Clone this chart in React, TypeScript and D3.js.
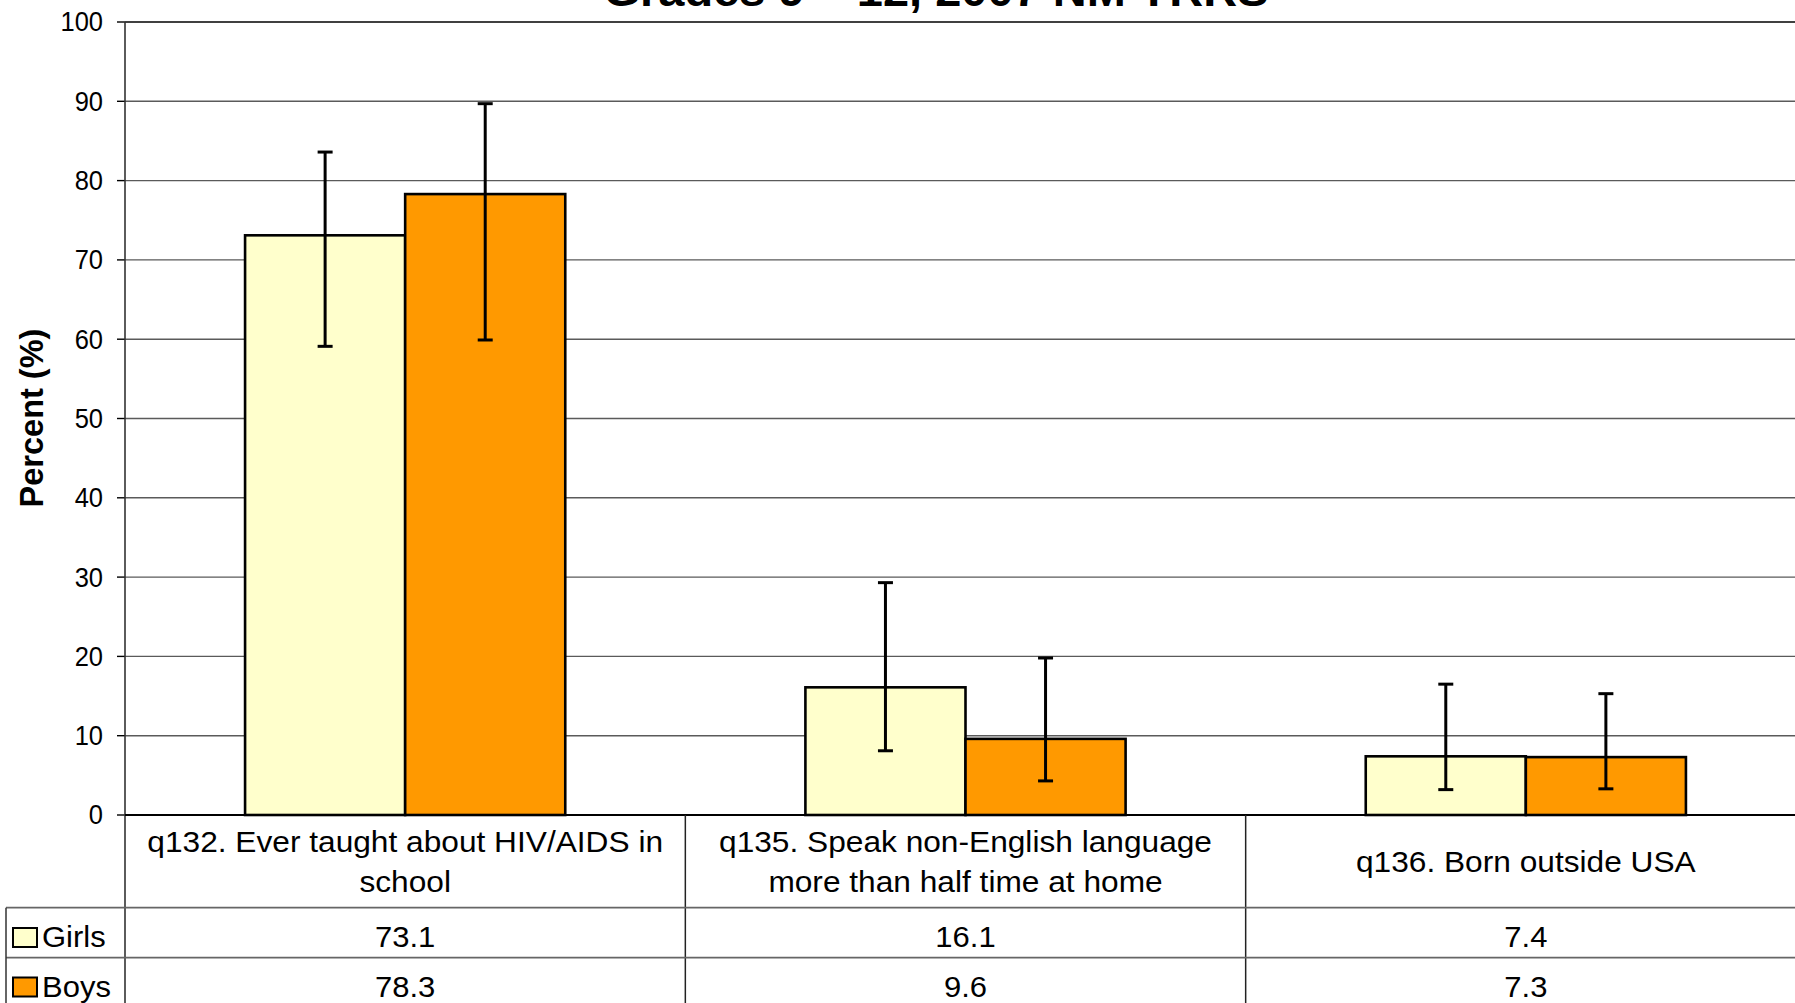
import React from "react";
import * as d3 from "d3";

const categories = [
  ["q132. Ever taught about HIV/AIDS in", "school"],
  ["q135. Speak non-English language", "more than half time at home"],
  ["q136. Born outside USA"],
];
const seriesNames = ["Girls", "Boys"];
const girls = [73.1, 16.1, 7.4];
const boys = [78.3, 9.6, 7.3];
const girlsLow = [59.1, 8.1, 3.2];
const girlsHigh = [83.6, 29.3, 16.5];
const boysLow = [59.9, 4.3, 3.3];
const boysHigh = [89.7, 19.8, 15.3];
const yTicks = [0, 10, 20, 30, 40, 50, 60, 70, 80, 90, 100];
const colors = ["#FFFFCC", "#FF9900"];
const title = "Grades 9 – 12, 2007 NM YRRS";

const W = 1795;
const H = 1003;
const left = 125;
const right = 1806;
const top = 22;
const bottom = 815;
const row1 = 907.7;
const row2 = 957.7;
const row3 = 1007.7;
const tableLeft = 6;
const FONT = "Arial, 'Liberation Sans', sans-serif";

export default function App() {
  const idx = categories.map((_, i) => i);
  const x = d3.scaleBand<number>().domain(idx).range([left, right]).paddingInner(0).paddingOuter(0);
  const bw = x.bandwidth();
  const xs = d3
    .scaleBand<number>()
    .domain([0, 1])
    .range([bw * (0.75 / 3.5), bw * (1 - 0.75 / 3.5)])
    .padding(0);
  const y = d3.scaleLinear().domain([0, 100]).range([bottom, top]);
  const values = [girls, boys];
  const lows = [girlsLow, boysLow];
  const highs = [girlsHigh, boysHigh];

  const colLines = [left, ...idx.slice(1).map((i) => x(i) as number)];

  return (
    <svg width={W} height={H} style={{ position: "absolute", left: 0, top: 0, background: "#fff" }}>
      <rect x={0} y={0} width={W} height={H} fill="#fff" />
      {/* title */}
      <text
        x={936}
        y={6}
        textAnchor="middle"
        fontFamily={FONT}
        fontWeight="bold"
        fontSize={44}
        textLength={665}
        lengthAdjust="spacingAndGlyphs"
        fill="#000"
      >
        {title}
      </text>
      {/* gridlines */}
      {yTicks.filter((t) => t > 0 && t < 100).map((t) => (
        <line key={"g" + t} x1={left} x2={right} y1={y(t)} y2={y(t)} stroke="#5a5a5a" strokeWidth={1.4} />
      ))}
      <line x1={left} x2={right} y1={y(100)} y2={y(100)} stroke="#000" strokeWidth={1.6} />
      {/* ticks and labels */}
      {yTicks.map((t) => (
        <g key={"t" + t}>
          <line x1={117} x2={left} y1={y(t)} y2={y(t)} stroke="#000" strokeWidth={1.4} />
          <text
            transform={`translate(103,${y(t)}) scale(1,1.06)`}
            dy="0.35em"
            textAnchor="end"
            fontFamily={FONT}
            fontSize={25.5}
            fill="#000"
          >
            {t}
          </text>
        </g>
      ))}
      {/* y title */}
      <text
        transform={`translate(43,418) rotate(-90)`}
        textAnchor="middle"
        fontFamily={FONT}
        fontWeight="bold"
        fontSize={32.5}
        fill="#000"
      >
        Percent (%)
      </text>
      {/* bars */}
      {idx.map((i) => (
        <g key={"b" + i} transform={`translate(${x(i)},0)`}>
          {values.map((vals, s) => (
            <rect
              key={s}
              x={xs(s)}
              y={y(vals[i])}
              width={xs.bandwidth()}
              height={y(0) - y(vals[i])}
              fill={colors[s]}
              stroke="#000"
              strokeWidth={2.6}
            />
          ))}
        </g>
      ))}
      {/* error bars */}
      {idx.map((i) => (
        <g key={"e" + i} transform={`translate(${x(i)},0)`}>
          {values.map((_, s) => {
            const cx = (xs(s) as number) + xs.bandwidth() / 2;
            const lo = y(lows[s][i]);
            const hi = y(highs[s][i]);
            return (
              <g key={s} stroke="#000" strokeWidth={3}>
                <line x1={cx} x2={cx} y1={hi} y2={lo} />
                <line x1={cx - 7.5} x2={cx + 7.5} y1={hi} y2={hi} />
                <line x1={cx - 7.5} x2={cx + 7.5} y1={lo} y2={lo} />
              </g>
            );
          })}
        </g>
      ))}
      {/* axis lines */}
      <line x1={left} x2={left} y1={top} y2={H} stroke="#333" strokeWidth={1.6} />
      <line x1={left} x2={right} y1={bottom} y2={bottom} stroke="#000" strokeWidth={1.8} />
      {/* table */}
      {colLines.slice(1).map((cx, k) => (
        <line key={"c" + k} x1={cx} x2={cx} y1={bottom} y2={H} stroke="#222" strokeWidth={1.5} />
      ))}
      <line x1={tableLeft} x2={right} y1={row1} y2={row1} stroke="#666" strokeWidth={1.8} />
      <line x1={tableLeft} x2={right} y1={row2} y2={row2} stroke="#666" strokeWidth={1.8} />
      <line x1={tableLeft} x2={right} y1={row3} y2={row3} stroke="#666" strokeWidth={1.8} />
      <line x1={tableLeft} x2={tableLeft} y1={row1} y2={H} stroke="#333" strokeWidth={1.5} />
      {/* category labels */}
      {idx.map((i) => {
        const cx = (x(i) as number) + bw / 2;
        const lines = categories[i];
        const base = lines.length === 1 ? 872 : 852;
        return lines.map((ln, k) => (
          <text
            key={"l" + i + k}
            transform={`translate(${cx},${base + k * 40}) scale(0.99,0.93)`}
            textAnchor="middle"
            fontFamily={FONT}
            fontSize={32}
            fill="#000"
          >
            {ln}
          </text>
        ));
      })}
      {/* value rows */}
      {values.map((vals, s) => {
        const base = s === 0 ? 947 : 996.5;
        return (
          <g key={"r" + s}>
            <rect
              x={13}
              y={base - 19}
              width={24}
              height={19}
              fill={colors[s]}
              stroke="#000"
              strokeWidth={2}
            />
            <text
              transform={`translate(42,${base}) scale(1,0.97)`}
              fontFamily={FONT}
              fontSize={31}
              fill="#000"
            >
              {seriesNames[s]}
            </text>
            {idx.map((i) => (
              <text
                key={i}
                transform={`translate(${(x(i) as number) + bw / 2},${base}) scale(1,0.96)`}
                textAnchor="middle"
                fontFamily={FONT}
                fontSize={31}
                fill="#000"
              >
                {vals[i].toFixed(1)}
              </text>
            ))}
          </g>
        );
      })}
    </svg>
  );
}
